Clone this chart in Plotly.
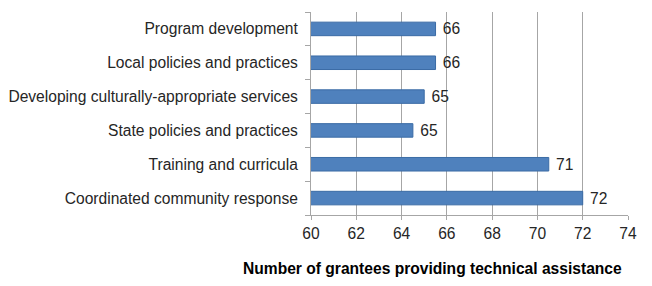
import plotly.graph_objects as go

categories = [
    "Program development",
    "Local policies and practices",
    "Developing culturally-appropriate services",
    "State policies and practices",
    "Training and curricula",
    "Coordinated community response",
]
values = [65.5, 65.5, 65, 64.5, 70.5, 72]
value_labels = ["66", "66", "65", "65", "71", "72"]
x_ticks = [60, 62, 64, 66, 68, 70, 72, 74]
x_title = "Number of grantees providing technical assistance"

W, H = 652, 286
L, R, T, B = 311, 24, 12, 71
FS = 15.6
FONT = "Liberation Sans, Arial"

fig = go.Figure(
    go.Bar(
        y=categories,
        x=values,
        base=0,
        orientation="h",
        marker=dict(color="#4F81BD", line=dict(color="#3A6BA5", width=1)),
        text=value_labels,
        texttemplate="\u00a0%{text}",
        textposition="outside",
        textangle=0,
        constraintext="none",
        textfont=dict(family=FONT, size=FS, color="#262626"),
        cliponaxis=False,
        width=0.4,
        hoverinfo="skip",
    )
)

fig.update_layout(
    width=W,
    height=H,
    margin=dict(l=L, r=R, t=T, b=B, autoexpand=False),
    paper_bgcolor="white",
    plot_bgcolor="white",
    showlegend=False,
    font=dict(family=FONT, size=FS, color="#262626"),
)

fig.update_xaxes(
    range=[60, 74],
    tickvals=x_ticks,
    ticktext=[str(t) for t in x_ticks],
    showgrid=True,
    gridcolor="#A6A6A6",
    gridwidth=1,
    showline=True,
    linecolor="#A6A6A6",
    ticks="outside",
    ticklen=4,
    tickcolor="#A6A6A6",
    zeroline=False,
    automargin=False,
    tickfont=dict(size=FS, color="#262626"),
)

fig.update_yaxes(
    categoryorder="array",
    categoryarray=categories[::-1],
    showline=True,
    linecolor="#A6A6A6",
    ticks="outside",
    tickson="boundaries",
    ticklen=5,
    tickcolor="#A6A6A6",
    showgrid=False,
    automargin=False,
    tickfont=dict(size=FS, color="#262626"),
    ticklabelstandoff=9,
)

pw = W - L - R
fig.add_annotation(
    text="<b>" + x_title + "</b>",
    xref="paper",
    yref="paper",
    x=(432 - L) / pw,
    y=-(268 - (H - B)) / (H - T - B),
    xanchor="center",
    yanchor="middle",
    showarrow=False,
    font=dict(family=FONT, size=FS, color="#000000"),
)

fig.write_html(
    "out.html",
    config={"displayModeBar": False, "staticPlot": True},
    post_script="document.body.style.margin='0';document.body.style.overflow='hidden';",
)
